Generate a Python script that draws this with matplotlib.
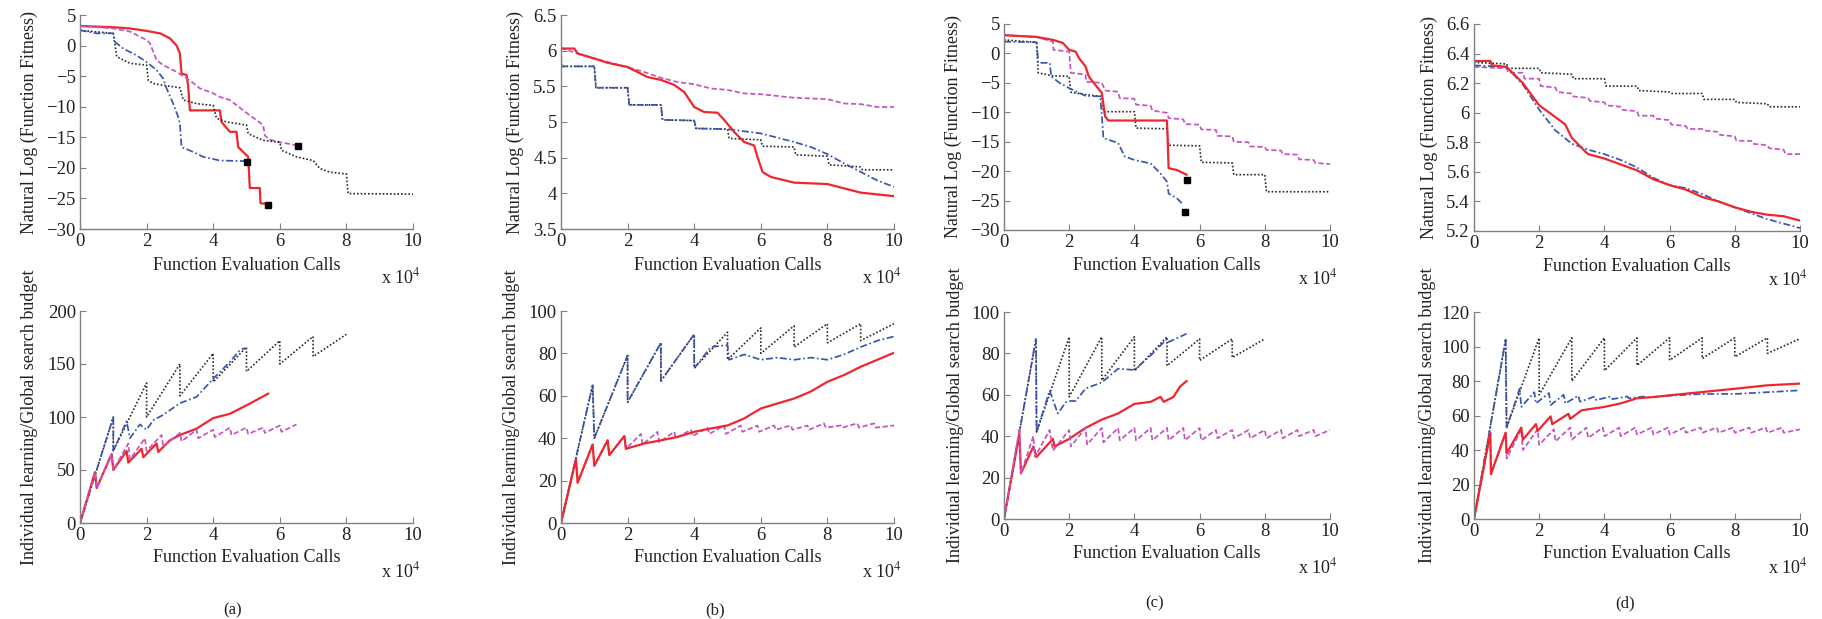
import matplotlib
matplotlib.use('Agg')
import matplotlib.pyplot as plt
from matplotlib.ticker import FuncFormatter, MultipleLocator

plt.rcParams['font.family'] = ['Liberation Serif', 'DejaVu Serif']
plt.rcParams['mathtext.fontset'] = 'stix'

# x values are in units of 10^4 function evaluation calls
# ---------------- top row: natural log of fitness ----------------
red_a_x = [0, 1.0, 1.5, 2.0, 2.4, 2.7, 2.9, 3.0, 3.05, 3.2, 3.25, 3.3, 4.2, 4.25, 4.5, 4.7, 4.75, 5.05, 5.1, 5.4, 5.42, 5.65]
red_a_y = [3.2, 3.0, 2.8, 2.4, 2.0, 1.2, 0.0, -1.3, -4.6, -4.8, -6.7, -10.6, -10.6, -12.5, -14.1, -14.1, -16.6, -18.2, -23.3, -23.3, -25.8, -25.9]
mag_a_x = [0, 1.0, 1.5, 2.0, 2.1, 2.3, 2.5, 2.9, 3.3, 3.6, 4.0, 4.2, 4.5, 4.9, 5.1, 5.3, 5.5, 5.55, 5.7, 6.0, 6.5]
mag_a_y = [3.2, 2.8, 2.3, 0.9, 0.4, -2.4, -3.2, -4.3, -5.7, -7.0, -7.8, -8.4, -8.9, -10.6, -11.4, -12.2, -13.0, -14.7, -15.4, -15.8, -16.3]
blue_a_x = [0, 0.5, 1.0, 1.05, 1.3, 1.7, 2.0, 2.3, 2.5, 2.6, 2.8, 2.95, 3.0, 3.05, 3.4, 3.7, 4.2, 5.0]
blue_a_y = [2.5, 2.0, 2.0, 0.6, -0.5, -1.6, -2.7, -4.0, -5.4, -7.0, -9.5, -11.7, -12.8, -16.6, -17.4, -18.2, -18.8, -18.9]
blk_a_x = [0, 1.0, 1.1, 1.5, 2.0, 2.05, 2.2, 2.5, 3.0, 3.1, 3.5, 4.0, 4.1, 4.4, 5.0, 5.05, 5.5, 6.0, 6.05, 6.5, 7.0, 7.2, 7.5, 8.0, 8.05, 10.0]
blk_a_y = [2.5, 2.0, -1.8, -2.9, -3.2, -5.7, -6.2, -6.5, -6.9, -8.9, -9.5, -9.8, -11.9, -12.5, -13.0, -14.4, -15.5, -15.8, -17.1, -18.2, -18.8, -20.1, -20.7, -21.0, -24.2, -24.3]
end_a_x = [5.65, 6.55, 5.0]
end_a_y = [-26.0, -16.5, -19.0]

red_b_x = [0, 0.4, 0.5, 1, 1.4, 2, 2.3, 2.6, 3, 3.4, 3.7, 4, 4.3, 4.7, 4.9, 5.2, 5.5, 5.8, 5.9, 6.05, 6.3, 7, 8, 8.5, 9, 10]
red_b_y = [6.03, 6.03, 5.96, 5.89, 5.83, 5.77, 5.70, 5.63, 5.59, 5.52, 5.42, 5.21, 5.14, 5.13, 5.03, 4.86, 4.72, 4.67, 4.51, 4.30, 4.23, 4.15, 4.13, 4.07, 4.01, 3.96]
mag_b_x = [0, 0.5, 1, 1.5, 2, 2.5, 3, 3.5, 4, 4.5, 5, 5.5, 6, 7, 8, 8.5, 9, 9.5, 10]
mag_b_y = [6.04, 5.96, 5.89, 5.83, 5.77, 5.70, 5.62, 5.56, 5.53, 5.47, 5.45, 5.40, 5.39, 5.34, 5.32, 5.26, 5.25, 5.21, 5.21]
blue_b_x = [0, 1, 1.05, 2, 2.05, 3, 3.05, 4, 4.05, 5, 6, 6.5, 7, 7.5, 8, 8.5, 9, 9.5, 10]
blue_b_y = [5.78, 5.78, 5.48, 5.48, 5.24, 5.24, 5.03, 5.02, 4.91, 4.90, 4.84, 4.78, 4.72, 4.65, 4.55, 4.42, 4.30, 4.18, 4.09]
blk_b_x = [0, 0.02, 1, 1.05, 2, 2.05, 3, 3.05, 4, 4.05, 5, 5.05, 6, 6.05, 7, 7.05, 8, 8.05, 9, 9.05, 10]
blk_b_y = [6.02, 5.78, 5.78, 5.48, 5.48, 5.24, 5.24, 5.03, 5.02, 4.91, 4.90, 4.77, 4.75, 4.66, 4.65, 4.54, 4.52, 4.40, 4.37, 4.33, 4.33]

red_c_x = [0, 1, 1.5, 1.8, 2, 2.2, 2.3, 2.5, 2.6, 2.75, 3, 3.1, 3.2, 5, 5.05, 5.3, 5.6]
red_c_y = [3.1, 2.8, 2.3, 1.8, 0.6, 0.3, -0.8, -2.2, -3.9, -5.0, -6.7, -10.7, -11.4, -11.4, -19.5, -19.8, -20.6]
mag_c_x = [0, 1, 1.5, 1.52, 2, 2.05, 2.5, 2.52, 3, 3.1, 3.5, 3.55, 4, 4.05, 4.5, 4.55, 5, 5.05, 5.5, 5.55,
           6, 6.05, 6.5, 6.55, 7, 7.05, 7.5, 7.55, 8, 8.05, 8.5, 8.55, 9, 9.05, 9.5, 9.55, 10]
mag_c_y = [3.1, 2.8, 2.0, 0.6, 0.3, -3.3, -3.6, -4.8, -5.0, -6.3, -6.5, -7.6, -7.7, -8.7, -8.9, -9.7, -10.1, -11.0, -11.2, -12.0,
           -12.1, -12.9, -13.0, -14.0, -14.1, -15.0, -15.1, -15.8, -15.9, -16.4, -16.5, -17.1, -17.2, -18.0, -18.1, -18.6, -18.8]
blue_c_x = [0, 1, 1.05, 1.4, 1.45, 1.7, 2, 2.3, 2.5, 2.95, 3.0, 3.05, 3.5, 3.7, 4, 4.5, 4.8, 5, 5.05, 5.3, 5.5]
blue_c_y = [2.0, 1.9, -1.6, -1.6, -3.9, -5.0, -5.9, -6.7, -7.2, -7.3, -10.4, -14.4, -15.2, -17.5, -18.1, -18.7, -20.4, -21.8, -23.8, -24.6, -25.7]
blk_c_x = [0, 1, 1.05, 1.5, 2, 2.05, 2.5, 3, 3.05, 4, 4.05, 5, 5.05, 6, 6.05, 7, 7.05, 8, 8.05, 10]
blk_c_y = [2.3, 1.9, -3.3, -3.8, -3.9, -6.6, -7.0, -7.3, -9.9, -9.9, -12.7, -12.8, -15.6, -15.7, -18.5, -18.6, -20.6, -20.6, -23.5, -23.5]
end_c_x = [5.62, 5.55]
end_c_y = [-21.5, -27.0]

red_d_x = [0, 0.5, 0.55, 1, 1.5, 2, 2.5, 2.8, 3, 3.4, 3.5, 4, 4.5, 5, 5.5, 6, 6.5, 7, 7.5, 8, 8.5, 9, 9.5, 10]
red_d_y = [6.35, 6.35, 6.32, 6.31, 6.20, 6.05, 5.97, 5.92, 5.83, 5.74, 5.72, 5.69, 5.65, 5.61, 5.55, 5.51, 5.48, 5.43, 5.40, 5.36, 5.33, 5.31, 5.30, 5.27]
blue_d_x = [0, 1, 1.5, 2, 2.5, 3, 3.5, 4, 4.5, 5, 5.5, 6, 6.5, 7, 7.5, 8, 8.5, 9, 9.5, 10]
blue_d_y = [6.32, 6.31, 6.19, 6.02, 5.88, 5.79, 5.75, 5.72, 5.68, 5.63, 5.56, 5.51, 5.49, 5.45, 5.40, 5.36, 5.32, 5.28, 5.25, 5.22]
mag_d_x = [0, 1, 1.05, 1.5, 1.55, 2, 2.05, 2.5, 2.55, 3, 3.05, 3.5, 3.55, 4, 4.05, 4.5, 4.55, 5, 5.05, 5.5,
           5.55, 6, 6.05, 6.5, 6.55, 7, 7.05, 7.5, 7.55, 8, 8.05, 8.5, 8.55, 9, 9.05, 9.5, 9.55, 10]
mag_d_y = [6.31, 6.30, 6.27, 6.27, 6.23, 6.23, 6.18, 6.17, 6.14, 6.13, 6.11, 6.10, 6.08, 6.07, 6.05, 6.04, 6.02, 6.01, 5.98, 5.98,
           5.96, 5.95, 5.92, 5.91, 5.89, 5.89, 5.88, 5.87, 5.85, 5.84, 5.81, 5.81, 5.79, 5.78, 5.76, 5.75, 5.72, 5.72]
blk_d_x = [0, 1, 1.05, 2, 2.05, 3, 3.05, 4, 4.05, 5, 5.05, 6, 6.05, 7, 7.05, 8, 8.05, 9, 9.05, 10]
blk_d_y = [6.34, 6.33, 6.30, 6.30, 6.27, 6.26, 6.23, 6.23, 6.18, 6.18, 6.15, 6.14, 6.13, 6.13, 6.09, 6.09, 6.07, 6.06, 6.04, 6.04]

# ---------------- bottom row: individual learning / global search budget ----------------
bred_a_x = [0, 0.45, 0.5, 0.95, 1.0, 1.4, 1.45, 1.85, 1.9, 2.3, 2.35, 2.7, 3, 3.5, 4, 4.5, 5, 5.65]
bred_a_y = [0, 48, 33, 65, 50, 68, 57, 70, 62, 75, 67, 78, 83, 89, 99, 103, 111, 122]
bmag_a_x = [0, 0.45, 0.5, 0.95, 1.0, 1.45, 1.5, 1.95, 2.0, 2.45, 2.5, 3.0, 3.05, 3.5, 3.55, 4.0, 4.05, 4.5, 4.55, 5.0, 5.05, 5.5, 5.55, 6.0, 6.05, 6.5]
bmag_a_y = [0, 48, 33, 65, 50, 75, 60, 80, 68, 83, 72, 85, 77, 88, 80, 88, 81, 90, 83, 90, 84, 90, 85, 92, 86, 93]
bblue_a_x = [0, 1, 1, 1.4, 1.5, 1.8, 2.0, 2.2, 2.5, 3, 3.5, 4, 4.5, 4.8, 4.95]
bblue_a_y = [0, 100, 68, 96, 80, 93, 88, 97, 102, 113, 119, 136, 152, 163, 165]
bblk_a_x = [0, 1, 1, 2, 2, 3, 3, 4, 4, 5, 5, 6, 6, 7, 7, 8]
bblk_a_y = [0, 100, 68, 132, 100, 150, 120, 160, 133, 166, 143, 172, 150, 176, 157, 178]

bred_b_x = [0, 0.45, 0.5, 0.95, 1.0, 1.4, 1.45, 1.9, 1.95, 2.5, 3, 3.5, 4, 4.5, 5, 5.5, 6, 6.5, 7, 7.5, 8, 8.5, 9, 9.5, 10]
bred_b_y = [0, 30, 19, 37, 27, 39, 32, 41, 35, 37.5, 39, 40.6, 43, 44.6, 46, 49.3, 54, 56.4, 58.7, 62, 66.6, 69.8, 73.7, 77, 80.3]
bmag_b_x = [0, 0.45, 0.5, 0.95, 1.0, 1.4, 1.45, 1.9, 1.95, 2.4, 2.45, 2.9, 2.95, 3.4, 3.45, 3.9, 3.95, 4.4, 4.45, 4.9,
            4.95, 5.4, 5.45, 5.9, 5.95, 6.4, 6.45, 6.9, 6.95, 7.4, 7.45, 7.9, 7.95, 8.4, 8.45, 8.9, 8.95, 9.4, 9.45, 10]
bmag_b_y = [0, 30, 19, 37, 27, 39, 32, 41, 35, 42, 37, 43, 38, 43, 40, 44, 41, 45, 42, 46,
            42, 46, 43, 46, 43, 46, 44, 46, 44, 46, 44, 47, 45, 46, 45, 47, 45, 47, 45, 46]
bblue_b_x = [0, 0.95, 1, 2, 2, 3, 3, 4, 4, 4.5, 5, 5.05, 5.5, 6, 6.5, 7, 7.5, 8, 8.5, 9, 9.5, 10]
bblue_b_y = [0, 65, 40, 79, 57, 85, 67, 89, 73, 83, 84, 77, 79.5, 77, 78, 77, 78, 77, 79.5, 83, 86, 88]
bblk_b_x = [0, 0.95, 1, 2, 2, 3, 3, 4, 4, 5, 5, 6, 6, 7, 7, 8, 8, 9, 9, 10]
bblk_b_y = [0, 65, 40, 79, 57, 85, 67, 89, 73, 90, 77, 92, 80, 93, 83, 94, 85, 94, 86, 94]

bred_c_x = [0, 0.47, 0.52, 0.9, 1.0, 1.5, 1.55, 2, 2.5, 3, 3.5, 4, 4.5, 4.8, 4.9, 5.2, 5.4, 5.6]
bred_c_y = [0, 41, 22, 35, 30, 38.7, 35, 38.7, 44, 48, 51, 55.6, 56.6, 59, 56.6, 59, 64, 66.6]
bmag_c_x = [0, 0.48, 0.52, 0.9, 0.95, 1.4, 1.5, 2.0, 2.05, 2.5, 2.55, 3.0, 3.05, 3.5, 3.55, 4.0, 4.05, 4.5, 4.55, 5.0,
            5.05, 5.5, 5.55, 6.0, 6.05, 6.5, 6.55, 7.0, 7.05, 7.5, 7.55, 8.0, 8.05, 8.5, 8.55, 9.0, 9.05, 9.5, 9.55, 10]
bmag_c_y = [0, 44, 22, 40, 30, 43, 33, 43, 35, 44, 36, 44, 37, 44, 38, 44, 38, 44, 38, 44,
            38, 44, 38, 44, 38, 43, 39, 43, 39, 43, 39, 43, 39, 43, 39, 43, 40, 43, 40, 43]
bblue_c_x = [0, 0.98, 1, 1.4, 1.65, 1.9, 2, 2.2, 2.5, 3, 3.5, 4, 4.5, 5, 5.05, 5.6]
bblue_c_y = [0, 87, 42, 62, 51, 56.5, 57, 57, 63, 66, 72.6, 72, 79, 87, 85.5, 89.5]
bblk_c_x = [0, 0.98, 1, 2, 2, 3, 3, 4, 4, 5, 5, 6, 6, 7, 7, 8]
bblk_c_y = [0, 87, 42, 88, 59, 88, 67, 88, 71.5, 88, 74, 87, 76.6, 87, 78, 87]

bred_d_x = [0, 0.5, 0.52, 0.97, 1.0, 1.45, 1.5, 1.9, 1.95, 2.35, 2.4, 2.9, 2.95, 3.3, 4, 4.5, 5, 5.5, 6, 7, 8, 9, 10]
bred_d_y = [0, 50, 26, 50, 38, 53, 46, 55, 51, 59.5, 55, 61, 58, 63, 65, 67, 70, 70.7, 71.7, 73.6, 75.5, 77.5, 78.5]
bmag_d_x = [0, 0.5, 0.52, 0.97, 1.0, 1.45, 1.5, 1.95, 2.0, 2.45, 2.5, 2.95, 3.0, 3.45, 3.5, 3.95, 4.0, 4.45, 4.5, 4.95,
            5.0, 5.45, 5.5, 5.95, 6.0, 6.45, 6.5, 6.95, 7.0, 7.45, 7.5, 7.95, 8.0, 8.45, 8.5, 8.95, 9.0, 9.45, 9.5, 10]
bmag_d_y = [0, 50, 26, 50, 35, 52, 40, 52, 43, 52, 45, 53, 46, 53, 47, 53, 48, 53, 48, 53,
            49, 53, 49, 53, 49, 53, 50, 53, 50, 53, 50, 53, 50, 53, 50, 53, 50, 53, 50, 52]
bblue_d_x = [0, 0.97, 1, 1.4, 1.45, 1.85, 1.9, 2.3, 2.35, 2.75, 2.8, 3.2, 3.25, 3.7, 3.75, 4.2, 4.25, 4.7, 4.75, 5.2, 5.3, 6, 7, 8, 9, 10]
bblue_d_y = [0, 104, 53, 75.5, 65, 73.5, 67, 73, 66, 72, 67, 71.5, 68, 71, 69, 71, 69.5, 71, 70, 71, 70.5, 71.5, 72.5, 72.5, 73.5, 74.6]
bblk_d_x = [0, 0.97, 1, 2, 2, 3, 3, 4, 4, 5, 5, 6, 6, 7, 7, 8, 8, 9, 9, 10]
bblk_d_y = [0, 104, 53, 105, 72, 105, 80, 105, 86, 105, 89, 105, 92, 105, 93, 105, 94, 105, 96, 104.5]

x_ticks = [0, 2, 4, 6, 8, 10]
top_ylims = [(-30, 5), (3.5, 6.5), (-30, 5), (5.2, 6.6)]
top_ysteps = [5, 0.5, 5, 0.2]
bot_ylims = [(0, 200), (0, 100), (0, 100), (0, 120)]
bot_ysteps = [50, 20, 20, 20]
panel_labels = ['(a)', '(b)', '(c)', '(d)']

W, H = 1822, 619
fig = plt.figure(figsize=(W / 100, H / 100), dpi=100)

RED = '#f0262e'
MAG = '#c355c3'
BLUE = '#3a55b0'
BLK = '#2a2a2a'
styles = {
    'red': dict(color=RED, lw=1.6, ls='-'),
    'mag': dict(color=MAG, lw=1.25, ls=(0, (3, 1.5))),
    'blue': dict(color=BLUE, lw=1.25, ls=(0, (4, 1.5, 1, 1.5))),
    'blk': dict(color=BLK, lw=1.2, ls=(0, (1, 1.2))),
}


def add_ax(x0, y0, x1, y1):
    return fig.add_axes([x0 / W, 1 - y1 / H, (x1 - x0) / W, (y1 - y0) / H])


def ftext(x, y, s, **kw):
    fig.text(x / W, 1 - y / H, s, color='#222222', **kw)


def fmt(v, p):
    return ('%g' % round(v, 3)).replace('-', '\u2212')


def style_ax(ax, ylim, ystep):
    ax.set_xlim(0, 10)
    ax.set_ylim(*ylim)
    ax.set_xticks(x_ticks)
    ax.yaxis.set_major_locator(MultipleLocator(ystep))
    ax.yaxis.set_major_formatter(FuncFormatter(fmt))
    for s in ['top', 'right']:
        ax.spines[s].set_visible(False)
    for s in ['left', 'bottom']:
        ax.spines[s].set_color('#808080')
        ax.spines[s].set_linewidth(1.0)
    ax.tick_params(direction='in', length=4, color='#808080', labelsize=13.5,
                   labelcolor='#222222', pad=3)
    ax.patch.set_visible(False)


top_boxes = [(80, 15, 413, 229), (561, 15, 894, 229), (1004, 24, 1330, 230), (1474, 24, 1800, 231)]
bot_boxes = [(80, 311, 413, 523), (561, 311, 894, 523), (1004, 312, 1330, 519), (1474, 312, 1800, 519)]
top_ylab_x = [29, 515, 953, 1429]
bot_ylab_x = [30, 512, 955, 1427]
label_y = [610, 610, 603, 603]

top_series = [
    [(red_a_x, red_a_y, 'red'), (mag_a_x, mag_a_y, 'mag'), (blk_a_x, blk_a_y, 'blk'), (blue_a_x, blue_a_y, 'blue')],
    [(mag_b_x, mag_b_y, 'mag'), (blk_b_x, blk_b_y, 'blk'), (blue_b_x, blue_b_y, 'blue'), (red_b_x, red_b_y, 'red')],
    [(mag_c_x, mag_c_y, 'mag'), (blk_c_x, blk_c_y, 'blk'), (blue_c_x, blue_c_y, 'blue'), (red_c_x, red_c_y, 'red')],
    [(blk_d_x, blk_d_y, 'blk'), (mag_d_x, mag_d_y, 'mag'), (blue_d_x, blue_d_y, 'blue'), (red_d_x, red_d_y, 'red')],
]
top_ends = [(end_a_x, end_a_y), None, (end_c_x, end_c_y), None]
bot_series = [
    [(bblk_a_x, bblk_a_y, 'blk'), (bblue_a_x, bblue_a_y, 'blue'), (bred_a_x, bred_a_y, 'red'), (bmag_a_x, bmag_a_y, 'mag')],
    [(bblk_b_x, bblk_b_y, 'blk'), (bblue_b_x, bblue_b_y, 'blue'), (bmag_b_x, bmag_b_y, 'mag'), (bred_b_x, bred_b_y, 'red')],
    [(bblk_c_x, bblk_c_y, 'blk'), (bblue_c_x, bblue_c_y, 'blue'), (bred_c_x, bred_c_y, 'red'), (bmag_c_x, bmag_c_y, 'mag')],
    [(bblk_d_x, bblk_d_y, 'blk'), (bblue_d_x, bblue_d_y, 'blue'), (bmag_d_x, bmag_d_y, 'mag'), (bred_d_x, bred_d_y, 'red')],
]

for i in range(4):
    # top panel
    x0, y0, x1, y1 = top_boxes[i]
    ax = add_ax(x0, y0, x1, y1)
    for xs, ys, k in top_series[i]:
        ax.plot(xs, ys, **styles[k])
    if top_ends[i] is not None:
        ax.plot(top_ends[i][0], top_ends[i][1], 's', color='black', ms=4.5, ls='none')
    style_ax(ax, top_ylims[i], top_ysteps[i])
    ftext((x0 + x1) / 2, y1 + 36, 'Function Evaluation Calls', fontsize=13, ha='center', va='center')
    ftext(x1 + 8, y1 + 48, r'x 10$^4$', fontsize=13, ha='right', va='center')
    ftext(top_ylab_x[i], (y0 + y1) / 2, 'Natural Log (Function Fitness)', fontsize=13,
          rotation=90, ha='center', va='center')

    # bottom panel
    x0, y0, x1, y1 = bot_boxes[i]
    ax = add_ax(x0, y0, x1, y1)
    for xs, ys, k in bot_series[i]:
        ax.plot(xs, ys, **styles[k])
    style_ax(ax, bot_ylims[i], bot_ysteps[i])
    ftext((x0 + x1) / 2, y1 + 35, 'Function Evaluation Calls', fontsize=13, ha='center', va='center')
    ftext(x1 + 8, y1 + 48, r'x 10$^4$', fontsize=13, ha='right', va='center')
    ftext(bot_ylab_x[i], (y0 + y1) / 2, 'Individual learning/Global search budget', fontsize=13,
          rotation=90, ha='center', va='center')
    ftext((x0 + x1) / 2 - 14 if i == 0 else (x0 + x1) / 2 - 12, label_y[i], panel_labels[i],
          fontsize=12, ha='center', va='center')

fig.savefig('out.png', dpi=100)
